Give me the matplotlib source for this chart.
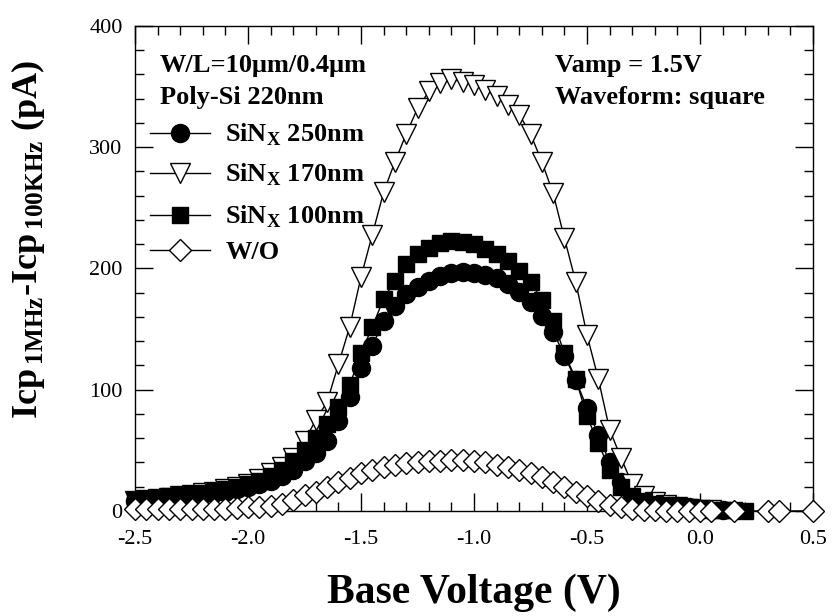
import matplotlib
matplotlib.use("Agg")
import matplotlib.pyplot as plt
import matplotlib.transforms as mtransforms
import numpy as np

plt.rcParams['font.family'] = ['Liberation Serif', 'DejaVu Serif']
plt.rcParams['mathtext.fontset'] = 'custom'
plt.rcParams['mathtext.rm'] = 'Liberation Serif'
plt.rcParams['mathtext.bf'] = 'Liberation Serif:bold'

# SiNx 250nm (filled circles)
v_250 = [-2.50, -2.45, -2.40, -2.35, -2.30, -2.25, -2.20, -2.15, -2.10, -2.05,
         -2.00, -1.95, -1.90, -1.85, -1.80, -1.75, -1.70, -1.65, -1.60, -1.55,
         -1.50, -1.45, -1.40, -1.35, -1.30, -1.25, -1.20, -1.15, -1.10, -1.05,
         -1.00, -0.95, -0.90, -0.85, -0.80, -0.75, -0.70, -0.65, -0.60, -0.55,
         -0.50, -0.45, -0.40, -0.35, -0.30, -0.25, -0.20, -0.15, -0.10, -0.05,
         0.00, 0.05, 0.10]
i_250 = [8, 9, 10, 11, 12, 13, 14, 15, 16, 18,
         20, 22, 25, 29, 34, 41, 48, 58, 74, 94,
         118, 136, 157, 169, 179, 185, 190, 194, 196, 197,
         196, 195, 192, 187, 181, 172, 161, 148, 128, 108,
         85, 63, 40, 24, 14, 9, 6, 5, 4, 3,
         2, 1, 0.5]

# SiNx 170nm (open down triangles)
v_170 = [-2.50, -2.45, -2.40, -2.35, -2.30, -2.25, -2.20, -2.15, -2.10, -2.05,
         -2.00, -1.95, -1.90, -1.85, -1.80, -1.75, -1.70, -1.65, -1.60, -1.55,
         -1.50, -1.45, -1.40, -1.35, -1.30, -1.25, -1.20, -1.15, -1.10, -1.05,
         -1.00, -0.95, -0.90, -0.85, -0.80, -0.75, -0.70, -0.65, -0.60, -0.55,
         -0.50, -0.45, -0.40, -0.35, -0.30, -0.25, -0.20, -0.15, -0.10, -0.05,
         0.00, 0.05]
i_170 = [8, 9, 10, 11, 12, 13, 14.5, 16, 18, 20,
         22, 26, 31, 36, 44, 58, 75, 90, 121, 152,
         193, 228, 263, 288, 311, 332, 346, 353, 356, 354,
         351, 347, 342, 335, 327, 311, 288, 262, 225, 189,
         145, 109, 67, 44, 22, 12, 7, 5, 3, 2,
         1, 0.5]

# SiNx 100nm (filled squares)
v_100 = [-2.50, -2.45, -2.40, -2.35, -2.30, -2.25, -2.20, -2.15, -2.10, -2.05,
         -2.00, -1.95, -1.90, -1.85, -1.80, -1.75, -1.70, -1.65, -1.60, -1.55,
         -1.50, -1.45, -1.40, -1.35, -1.30, -1.25, -1.20, -1.15, -1.10, -1.05,
         -1.00, -0.95, -0.90, -0.85, -0.80, -0.75, -0.70, -0.65, -0.60, -0.55,
         -0.50, -0.45, -0.40, -0.35, -0.30, -0.25, -0.20, -0.15, -0.10, -0.05,
         0.00, 0.05, 0.10, 0.15, 0.20]
i_100 = [9, 10, 11, 12, 13, 14, 15, 16.5, 18, 20,
         22, 25, 29, 34, 41, 50, 60, 72, 86, 104,
         130, 152, 175, 190, 204, 212, 217, 221, 223, 222,
         220, 216, 212, 206, 198, 189, 174, 157, 130, 109,
         78, 56, 34, 20, 12, 8, 6, 5, 4, 3,
         2, 1, 1, 0.5, 0]

# without SiNx (open diamonds)
v_wo = [-2.50, -2.45, -2.40, -2.35, -2.30, -2.25, -2.20, -2.15, -2.10, -2.05,
        -2.00, -1.95, -1.90, -1.85, -1.80, -1.75, -1.70, -1.65, -1.60, -1.55,
        -1.50, -1.45, -1.40, -1.35, -1.30, -1.25, -1.20, -1.15, -1.10, -1.05,
        -1.00, -0.95, -0.90, -0.85, -0.80, -0.75, -0.70, -0.65, -0.60, -0.55,
        -0.50, -0.45, -0.40, -0.35, -0.30, -0.25, -0.20, -0.15, -0.10, -0.05,
        0.00, 0.05, 0.15, 0.30, 0.35, 0.50]
i_wo = [1.5, 1.5, 1.5, 1.5, 1.5, 1.5, 1.5, 2, 2, 2.5,
        3, 3.5, 4, 6, 9, 13, 16, 20, 24, 27,
        31, 34, 36, 38, 39.5, 40.5, 41, 41.5, 42, 42,
        41.5, 40, 38, 36, 33.5, 31, 28, 24, 20, 16,
        12, 8, 5, 3, 1.5, 1, 0.5, 0.3, 0.2, 0.1,
        0, 0, 0, 0, 0, 0]

legend_labels = [r'SiN$_{\mathbf{X}}$ 250nm', r'SiN$_{\mathbf{X}}$ 170nm',
                 r'SiN$_{\mathbf{X}}$ 100nm', 'W/O']

fig = plt.figure(figsize=(8.32, 6.16), dpi=100)
ax = fig.add_axes([0.1623, 0.1705, 0.8149, 0.7873])

styles = [
    dict(marker='o', ms=13, mfc='black'),
    dict(marker='v', ms=15, mfc='white'),
    dict(marker='s', ms=12, mfc='black'),
    dict(marker='D', ms=11.5, mfc='white'),
]
series = [(v_250, i_250), (v_170, i_170), (v_100, i_100), (v_wo, i_wo)]
for k in [0, 2, 1, 3]:
    x, y = series[k]
    ax.plot(x, y, color='black', lw=1, mec='black', mew=1, clip_on=False,
            zorder=3 + k, **styles[k])

ax.set_xlim(-2.5, 0.5)
ax.set_ylim(0, 400)
ax.set_xticks(np.arange(-2.5, 0.51, 0.5))
ax.set_xticklabels(['-2.5', '-2.0', '-1.5', '-1.0', '-0.5', '0.0', '0.5'])
ax.set_xticks(np.arange(-2.5, 0.51, 0.1), minor=True)
ax.set_yticks([0, 100, 200, 300, 400])
ax.set_yticks(np.arange(0, 401, 20), minor=True)
ax.tick_params(which='both', direction='in', top=True, right=True,
               labelsize=16, width=1)
ax.tick_params(which='major', length=13)
ax.tick_params(which='minor', length=6.5)
ax.tick_params(axis='x', which='major', pad=14)
ax.tick_params(axis='y', which='major', pad=9)
for s in ax.spines.values():
    s.set_linewidth(1)

ax.set_xlabel('Base Voltage (V)', fontsize=30, fontweight='bold')
ax.xaxis.set_label_coords(0.5, -0.13)
ax.set_ylabel(r'Icp$_{\mathbf{\,1MHz}}$-Icp$_{\mathbf{\,100KHz}}$ (pA)',
              fontsize=26, fontweight='bold')
ax.yaxis.set_label_coords(-0.13, 0.559)

hdr = dict(transform=ax.transAxes, fontsize=19, fontweight='bold', va='center')
ax.text(0.037, 0.918, u'W/L=10\u03bcm/0.4\u03bcm', **hdr)
ax.text(0.037, 0.852, 'Poly-Si 220nm', **hdr)
ax.text(0.619, 0.918, 'Vamp = 1.5V', **hdr)
ax.text(0.619, 0.852, 'Waveform: square', **hdr)

# hand-built legend
rows = [0.779, 0.697, 0.610, 0.538]
base_shift = mtransforms.offset_copy(ax.transAxes, fig=fig, x=0, y=-6.2,
                                     units='points')
for k, yr in enumerate(rows):
    ax.plot([0.022, 0.111], [yr, yr], color='black', lw=1,
            transform=ax.transAxes, clip_on=False)
    ax.plot([0.066], [yr], color='black', mec='black', mew=1,
            transform=ax.transAxes, clip_on=False, ls='none', **styles[k])
    ax.text(0.133, yr, legend_labels[k], transform=base_shift,
            fontsize=19, fontweight='bold', va='baseline')

fig.savefig('out.png', dpi=100)
